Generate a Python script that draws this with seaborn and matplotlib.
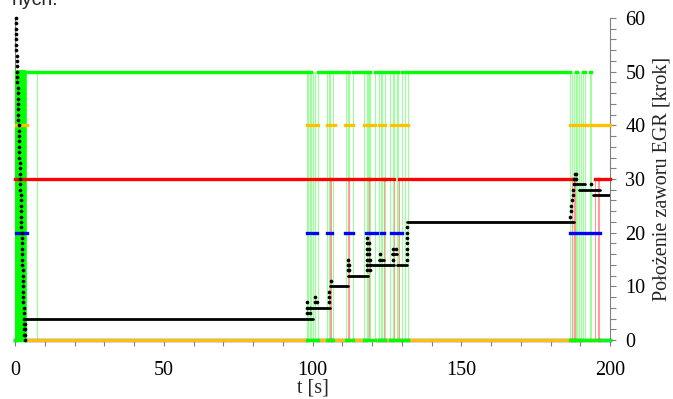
import matplotlib
matplotlib.use("Agg")
import matplotlib.pyplot as plt
from matplotlib.ticker import MultipleLocator
import pandas as pd
import seaborn as sns

# ---- two-state signals: switching instants [s] and the level held from each instant ----
green_t = [0.0, 0.3, 0.55, 0.8, 1.05, 1.3, 1.55, 1.8, 2.05, 2.3, 2.55, 2.8, 3.05, 3.3,
           7.3, 7.5,
           98.0, 98.4, 98.6, 99.2, 99.4, 100.1, 100.3, 100.8, 101.0, 101.8,
           104.9, 105.6, 105.8, 106.8, 111.2, 112.0, 112.2, 113.6,
           117.4, 118.3, 118.5, 119.0, 119.2, 121.0, 122.3, 123.0, 123.2, 124.4,
           126.2, 127.0, 127.4, 128.5, 128.8, 130.0, 131.0, 132.2,
           186.5, 187.1, 187.3, 187.8, 188.0, 188.6, 188.9, 189.5, 189.7, 190.2,
           190.4, 190.8, 191.6, 193.4, 193.7, 200.0]
green_v = [0, 50, 0, 50, 0, 50, 0, 50, 0, 50, 0, 50, 0, 50,
           0, 50,
           0, 50, 0, 50, 0, 50, 0, 50, 0, 50,
           0, 50, 0, 50, 0, 50, 0, 50,
           0, 50, 0, 50, 0, 50, 0, 50, 0, 50,
           0, 50, 0, 50, 0, 50, 0, 50,
           0, 50, 0, 50, 0, 50, 0, 50, 0, 50,
           0, 50, 0, 50, 0, 0]
green_burst_end = 14  # rapid switching right after start-up

yellow_t = [0.0, 0.3, 4.0, 98.0, 101.8, 104.8, 107.6, 111.0, 113.7, 117.4, 121.0,
            122.4, 124.4, 126.3, 130.0, 131.0, 132.2, 186.5, 200.0]
yellow_v = [0, 40, 0, 40, 0, 40, 0, 40, 0, 40, 0,
            40, 0, 40, 0, 40, 0, 40, 40]

blue_t = [0.0, 0.3, 4.0, 98.0, 101.4, 104.8, 106.7, 111.0, 113.6, 118.0, 121.6,
          123.0, 124.1, 126.4, 130.0, 186.5, 196.6, 200.0]
blue_v = [0, 20, 0, 20, 0, 20, 0, 20, 0, 20, 0,
          20, 0, 20, 0, 20, 0, 0]

red_t = [0.0, 106.0, 106.15, 112.0, 112.15, 119.0, 119.15, 124.0, 124.15, 127.5, 129.2,
         187.2, 188.0, 188.1, 194.8, 196.1, 196.2, 200.0]
red_v = [30, 0, 30, 0, 30, 0, 30, 0, 30, 0, 30,
         0, 30, 0, 30, 0, 30, 30]

# ---- EGR valve position [krok]: held levels ----
black_t0 = [3.4, 98.5, 106.0, 111.8, 119.5, 122.5, 126.8, 128.4, 131.8, 188.3, 189.5, 194.3]
black_t1 = [100.2, 106.0, 112.0, 118.8, 127.5, 124.0, 128.4, 131.8, 188.0, 191.6, 196.6, 200.0]
black_v = [4, 6, 10, 12, 14, 15, 16, 14, 22, 29, 28, 27]

# ---- EGR valve position: single samples while the valve is moving ----
sweep_t = [0.20, 0.25, 0.30, 0.35, 0.40, 0.45, 0.50, 0.55, 0.60, 0.65, 0.70, 0.75,
           0.80, 0.85, 0.90, 0.95, 1.00, 1.05, 1.10, 1.15, 1.20, 1.25, 1.30, 1.35,
           1.40, 1.45, 1.50, 1.55, 1.60, 1.65, 1.70, 1.75, 1.80, 1.85, 1.90, 1.95,
           2.00, 2.05, 2.10, 2.15, 2.20, 2.25, 2.30, 2.35, 2.40, 2.45, 2.50, 2.55,
           2.60, 2.65, 2.70, 2.75, 2.80, 2.85, 2.90, 2.95, 3.00, 3.05, 3.10, 3.15, 3.20]
sweep_v = [60, 59, 58, 57, 56, 55, 54, 53, 52, 51, 50, 49, 48, 47, 46, 45, 44, 43,
           42, 41, 40, 39, 38, 37, 36, 35, 34, 33, 32, 31, 30, 29, 28, 27, 26, 25,
           24, 23, 22, 21, 20, 19, 18, 17, 16, 15, 14, 13, 12, 11, 10, 9, 8, 7, 6,
           5, 4, 3, 2, 1, 0]
move_t = [3.4, 98.3, 99.0, 101.0, 101.5, 105.5, 106.3, 111.8, 112.4,
          118.4, 119.0, 119.4, 122.8, 126.9, 128.2, 131.6,
          186.6, 186.8, 187.0, 187.2, 187.4, 187.6, 187.8, 188.0, 188.2, 188.6, 193.5]
move_v = [[1, 2, 3], [5, 6, 7], [5, 6], [7, 8], [7], [7, 8, 9], [11], [13, 14, 15], [13, 14],
          [13, 14, 15, 16, 17, 18, 19], [15, 16, 17, 18], [13, 14, 15], [15, 16],
          [15, 16, 17], [17], [15, 16, 17, 18, 19, 20, 21],
          [23], [24], [25], [26], [27], [28], [29], [30], [31], [30, 31], [29]]

# ---- figure ----
sns.set_style("white")
plt.rcParams["font.family"] = ["Liberation Serif", "DejaVu Serif"]

fig = plt.figure(figsize=(6.73, 3.99), dpi=100)
ax = fig.add_axes([15 / 673, 1 - 340 / 399, 595 / 673, 322 / 399])


def runs(t, v):
    rows = []
    for i in range(len(t) - 1):
        rows.append({"t": t[i], "v": v[i], "seg": i})
        rows.append({"t": t[i + 1], "v": v[i], "seg": i})
    return pd.DataFrame(rows)


def draw_levels(t, v, color):
    # thick held levels
    sns.lineplot(data=runs(t, v), x="t", y="v", units="seg", estimator=None,
                 sort=False, color=color, lw=2.4, solid_capstyle="projecting",
                 clip_on=False, zorder=3, ax=ax)


def draw_edges(t, v, color, lw=0.8):
    # thin connecting step line (shows the switching edges)
    sns.lineplot(x=t, y=v, drawstyle="steps-post", color=color, lw=lw,
                 estimator=None, sort=False, zorder=2, ax=ax)


# switching edges underneath, held levels on top
draw_edges(green_t, green_v, "#9CFF9C")
draw_edges(green_t[:green_burst_end], green_v[:green_burst_end], "#00FF00", lw=2.6)
draw_edges(red_t, red_v, "#FF9A9A")
draw_levels(blue_t, blue_v, "#0000FF")
draw_levels(yellow_t, yellow_v, "#FFC000")
draw_levels(red_t, red_v, "#FF0000")
draw_levels(green_t, green_v, "#00FF00")

# valve position
seg_rows = []
for i, (a, b, v) in enumerate(zip(black_t0, black_t1, black_v)):
    seg_rows += [{"t": a, "v": v, "seg": i}, {"t": b, "v": v, "seg": i}]
sns.lineplot(data=pd.DataFrame(seg_rows), x="t", y="v", units="seg", estimator=None,
             sort=False, color="black", lw=2.0, zorder=4, ax=ax)

dot_t = list(sweep_t)
dot_v = list(sweep_v)
for t, vals in zip(move_t, move_v):
    for v in vals:
        dot_t.append(t)
        dot_v.append(v)
sns.scatterplot(x=dot_t, y=dot_v, color="black", s=7, linewidth=0, ax=ax,
                clip_on=False, zorder=5)

# ---- axes styling ----
ax.set_xlim(0, 200)
ax.set_ylim(0, 60)
ax.xaxis.set_major_locator(MultipleLocator(50))
ax.xaxis.set_minor_locator(MultipleLocator(10))
ax.yaxis.set_major_locator(MultipleLocator(10))
ax.yaxis.set_minor_locator(MultipleLocator(2))
ax.yaxis.tick_right()
ax.yaxis.set_label_position("right")
ax.tick_params(axis="both", which="both", direction="out", length=4, width=0.8,
               color="#808080", labelsize=14.5, labelcolor="black")
ax.tick_params(axis="x", which="both", bottom=True, top=False, pad=11)
ax.tick_params(axis="y", which="both", right=True, left=False, pad=7)
for side in ["left", "right", "bottom"]:
    ax.spines[side].set_color("#808080")
    ax.spines[side].set_linewidth(0.8)
    ax.spines[side].set_zorder(1)
ax.spines["top"].set_visible(False)
ax.set_xlabel("t [s]", fontsize=14.5, labelpad=-1)
ax.set_ylabel("Położenie zaworu EGR [krok]", fontsize=14.5, labelpad=5)
ax.grid(False)

fig.text(12 / 673, 1 - 5 / 399, "nych.", fontsize=14, va="baseline", ha="left",
         family=["Liberation Sans", "DejaVu Sans"])

fig.savefig("out.png", dpi=100)
